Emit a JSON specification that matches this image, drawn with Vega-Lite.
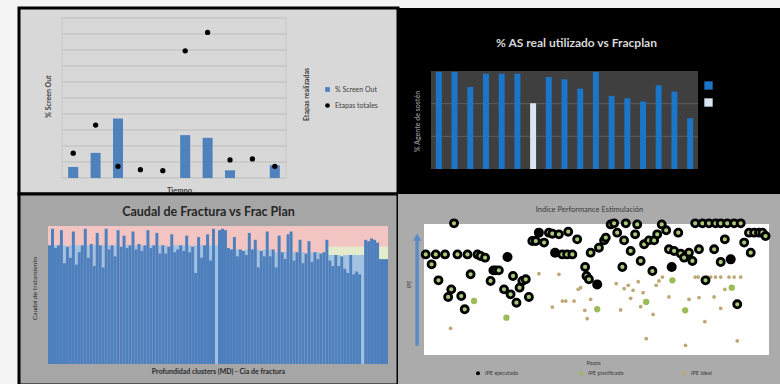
{
"$schema": "https://vega.github.io/schema/vega-lite/v6.json",
"background": "#f3f3f3",
"padding": {"left": 17, "top": 6, "right": 0, "bottom": 0},
"config": {"font": "Lato", "view": {"stroke": null}},
"spacing": 0,
"columns": 2,
"align": "each",
"bounds": "flush",
"resolve": {"scale": {"color": "independent", "shape": "independent"}, "legend": {"color": "independent", "shape": "independent"}},
"concat": [
{
"width": 379, "height": 186,
"view": {"fill": "#d8d8d8", "stroke": "#000000", "strokeWidth": 3},
"layer": [
{"data": {"values": [{"g":0},{"g":1},{"g":2},{"g":3},{"g":4},{"g":5},{"g":6},{"g":7},{"g":8},{"g":9},{"g":10}]},
"mark": {"type": "rule", "color": "#bdbdbd", "strokeWidth": 1},
"encoding": {
"x": {"datum": -0.5, "type": "quantitative", "scale": {"domain": [-0.5, 9.5], "range": [43, 267], "nice": false, "zero": false, "padding": 0}, "axis": {"title": "Tiempo", "labels": false, "ticks": false, "domain": false, "grid": false, "titleX": 160, "titleY": -4, "titleFont": "Lato", "titleFontSize": 7.5, "titleFontWeight": "bold", "titleColor": "#404040", "titleAlign": "center", "titleBaseline": "middle"}},
"x2": {"datum": 9.5},
"y": {"field": "g", "type": "quantitative", "scale": {"domain": [0, 10], "range": [170, 10], "nice": false}, "axis": null}
}},
{"data": {"values": [{"xv": -0.5}, {"xv": 9.5}]},
"mark": {"type": "rule", "color": "#c6c6c6"},
"encoding": {"x": {"field": "xv", "type": "quantitative"}, "y": {"datum": 0, "type": "quantitative", "axis": null}, "y2": {"datum": 10}}},
{"data": {"values": [{"t":0,"v":0.69,"serie":"% Screen Out"},{"t":1,"v":1.57,"serie":"% Screen Out"},{"t":2,"v":3.72,"serie":"% Screen Out"},{"t":5,"v":2.68,"serie":"% Screen Out"},{"t":6,"v":2.51,"serie":"% Screen Out"},{"t":7,"v":0.48,"serie":"% Screen Out"},{"t":9,"v":0.79,"serie":"% Screen Out"}]},
"mark": {"type": "bar", "orient": "vertical", "size": 10},
"encoding": {
"x": {"field": "t", "type": "quantitative"},
"y": {"field": "v", "type": "quantitative", "axis": {"orient": "left", "title": "% Screen Out", "labels": false, "ticks": false, "domain": false, "grid": false, "titleX": 29, "titleY": 88, "titleAngle": -90, "titleFont": "Lato", "titleFontSize": 7, "titleFontWeight": "bold", "titleColor": "#404040", "titleAlign": "center", "titleBaseline": "middle"}},
"color": {"field": "serie", "type": "nominal", "scale": {"domain": ["% Screen Out", "Etapas totales"], "range": ["#4f81bd", "#000000"]}, "legend": {"orient": "none", "legendX": 305, "legendY": 78, "title": null, "labelFont": "Lato", "labelFontSize": 7, "labelColor": "#404040", "symbolSize": 22, "rowPadding": 8}}
}},
{"data": {"values": [{"t":0,"e":1.55,"serie":"Etapas totales"},{"t":1,"e":3.31,"serie":"Etapas totales"},{"t":2,"e":0.73,"serie":"Etapas totales"},{"t":3,"e":0.52,"serie":"Etapas totales"},{"t":4,"e":0.46,"serie":"Etapas totales"},{"t":5,"e":7.95,"serie":"Etapas totales"},{"t":6,"e":9.1,"serie":"Etapas totales"},{"t":7,"e":1.13,"serie":"Etapas totales"},{"t":8,"e":1.19,"serie":"Etapas totales"},{"t":9,"e":0.73,"serie":"Etapas totales"}]},
"mark": {"type": "point", "filled": true, "size": 28, "opacity": 1},
"encoding": {
"x": {"field": "t", "type": "quantitative"},
"y": {"field": "e", "type": "quantitative", "axis": {"orient": "right", "title": "Etapas realizadas", "labels": false, "ticks": false, "domain": false, "grid": false, "titleX": -92, "titleY": 86, "titleAngle": -90, "titleFont": "Lato", "titleFontSize": 7, "titleFontWeight": "bold", "titleColor": "#404040", "titleAlign": "center", "titleBaseline": "middle"}},
"color": {"field": "serie", "type": "nominal", "scale": {"domain": ["% Screen Out", "Etapas totales"], "range": ["#4f81bd", "#000000"]}, "legend": {"orient": "none", "legendX": 305, "legendY": 78, "title": null, "labelFont": "Lato", "labelFontSize": 7, "labelColor": "#404040", "symbolSize": 22, "rowPadding": 8}},
"shape": {"field": "serie", "type": "nominal", "scale": {"domain": ["% Screen Out", "Etapas totales"], "range": ["square", "circle"]}, "legend": {"orient": "none", "legendX": 305, "legendY": 78, "title": null, "labelFont": "Lato", "labelFontSize": 7, "labelColor": "#404040", "symbolSize": 22, "rowPadding": 8}}
}}
],
"resolve": {"axis": {"y": "independent"}}
},
{
"width": 383, "height": 186,
"view": {"fill": "#000000", "stroke": null},
"title": {"text": "% AS real utilizado vs Fracplan", "font": "Lato", "fontSize": 12, "fontWeight": "bold", "color": "#d9d9d9", "anchor": "middle", "frame": "group", "baseline": "middle", "offset": -47, "dx": -13},
"layer": [
{"data": {"values": [{}]},
"mark": {"type": "rect", "color": "#3f3f3f"},
"encoding": {
"x": {"datum": -0.5, "type": "quantitative", "scale": {"domain": [-0.5, 16.5], "range": [33, 300], "nice": false, "zero": false, "padding": 0}, "axis": null},
"x2": {"datum": 16.5},
"y": {"datum": 0, "type": "quantitative", "scale": {"domain": [0, 120], "range": [161, 63], "nice": false}, "axis": {"title": "% Agente de sostén", "labels": false, "ticks": false, "domain": false, "grid": false, "titleX": 19, "titleY": 113, "titleAngle": -90, "titleFont": "Lato", "titleFontSize": 7, "titleFontWeight": "bold", "titleColor": "#8a8a8a", "titleAlign": "center", "titleBaseline": "middle"}},
"y2": {"datum": 120}
}},
{"data": {"values": [{"g": 40}, {"g": 80}]},
"mark": {"type": "rule", "color": "#5e5e5e"},
"encoding": {"x": {"datum": -0.5, "type": "quantitative", "axis": null}, "x2": {"datum": 16.5}, "y": {"field": "g", "type": "quantitative"}}},
{"data": {"values": [{"n":0,"v":119,"tipo":"real"},{"n":1,"v":119,"tipo":"real"},{"n":2,"v":100.5,"tipo":"real"},{"n":3,"v":116.7,"tipo":"real"},{"n":4,"v":116.7,"tipo":"real"},{"n":5,"v":116.7,"tipo":"real"},{"n":6,"v":80.5,"tipo":"plan"},{"n":7,"v":112.7,"tipo":"real"},{"n":8,"v":109.8,"tipo":"real"},{"n":9,"v":98.4,"tipo":"real"},{"n":10,"v":118.8,"tipo":"real"},{"n":11,"v":89.5,"tipo":"real"},{"n":12,"v":86.6,"tipo":"real"},{"n":13,"v":82.6,"tipo":"real"},{"n":14,"v":102.5,"tipo":"real"},{"n":15,"v":94.8,"tipo":"real"},{"n":16,"v":62.2,"tipo":"real"}]},
"mark": {"type": "bar", "orient": "vertical", "size": 6},
"encoding": {
"x": {"field": "n", "type": "quantitative", "axis": null},
"y": {"field": "v", "type": "quantitative"},
"color": {"field": "tipo", "type": "nominal", "scale": {"domain": ["real", "plan"], "range": ["#1b75c9", "#dbe5f1"]}, "legend": {"orient": "none", "legendX": 306, "legendY": 73, "title": null, "symbolType": "square", "symbolSize": 70, "symbolStrokeWidth": 0, "labelExpr": "''", "labelFontSize": 8, "rowPadding": 8}}
}}
]
},
{
"width": 379, "height": 191,
"view": {"fill": "#a6a6a6", "stroke": "#000000", "strokeWidth": 3},
"title": {"text": "Caudal de Fractura vs Frac Plan", "font": "Lato", "fontSize": 12.5, "fontWeight": "bold", "color": "#262626", "anchor": "middle", "frame": "group", "baseline": "middle", "offset": -30},
"data": {"values": [{"i":0,"b":86},{"i":1,"b":98},{"i":2,"b":84,"s":86},{"i":3,"b":86},{"i":4,"b":97},{"i":5,"b":73,"s":86},{"i":6,"b":85},{"i":7,"b":77,"s":86},{"i":8,"b":96},{"i":9,"b":72,"s":86},{"i":10,"b":81,"s":86},{"i":11,"b":86},{"i":12,"b":98},{"i":13,"b":77,"s":86},{"i":14,"b":87},{"i":15,"b":71,"s":86},{"i":16,"b":95},{"i":17,"b":86},{"i":18,"b":70,"s":86},{"i":19,"b":98},{"i":20,"b":83,"s":86},{"i":21,"b":86},{"i":22,"b":78,"s":86},{"i":23,"b":97},{"i":24,"b":85},{"i":25,"b":93},{"i":26,"b":84,"s":86},{"i":27,"b":86},{"i":28,"b":96},{"i":29,"b":83,"s":86},{"i":30,"b":87},{"i":31,"b":82,"s":86},{"i":32,"b":86},{"i":33,"b":97},{"i":34,"b":84,"s":86},{"i":35,"b":86},{"i":36,"b":95},{"i":37,"b":80,"s":86},{"i":38,"b":86},{"i":39,"b":80,"s":86},{"i":40,"b":85},{"i":41,"b":94},{"i":42,"b":81,"s":86},{"i":43,"b":83,"s":86},{"i":44,"b":86},{"i":45,"b":82,"s":86},{"i":46,"b":93},{"i":47,"b":81,"s":86},{"i":48,"b":85},{"i":49,"b":66,"s":86},{"i":50,"b":92},{"i":51,"b":77,"s":86},{"i":52,"b":86},{"i":53,"b":94},{"i":54,"b":75,"s":86},{"i":55,"b":98},{"i":56,"b":0,"s":86},{"i":57,"b":97},{"i":58,"b":98},{"i":59,"b":97},{"i":60,"b":84},{"i":61,"b":83},{"i":62,"b":92},{"i":63,"b":78,"s":83},{"i":64,"b":83},{"i":65,"b":82},{"i":66,"b":79,"s":83},{"i":67,"b":95},{"i":68,"b":83},{"i":69,"b":90},{"i":70,"b":70,"s":83},{"i":71,"b":82},{"i":72,"b":78,"s":83},{"i":73,"b":96},{"i":74,"b":78,"s":83},{"i":75,"b":83},{"i":76,"b":70,"s":81},{"i":77,"b":93},{"i":78,"b":81},{"i":79,"b":76,"s":81},{"i":80,"b":94},{"i":81,"b":96},{"i":82,"b":75,"s":81},{"i":83,"b":81},{"i":84,"b":90},{"i":85,"b":73,"s":81},{"i":86,"b":80},{"i":87,"b":89},{"i":88,"b":74,"s":81},{"i":89,"b":81},{"i":90,"b":76,"s":81},{"i":91,"b":80},{"i":92,"b":81},{"i":93,"b":90,"g":85},{"i":94,"b":75,"s":79,"g":85},{"i":95,"b":71,"s":79,"g":85},{"i":96,"b":79,"g":85},{"i":97,"b":71,"s":79,"g":85},{"i":98,"b":78,"g":85},{"i":99,"b":69,"s":79,"g":85},{"i":100,"b":66,"s":79,"g":85},{"i":101,"b":79,"g":85},{"i":102,"b":65,"s":79,"g":85},{"i":103,"b":67,"s":79,"g":85},{"i":104,"b":65,"s":79,"g":85},{"i":105,"b":0,"s":79,"g":85},{"i":106,"b":90},{"i":107,"b":89},{"i":108,"b":91},{"i":109,"b":90},{"i":110,"b":88},{"i":111,"b":76,"g":85},{"i":112,"b":76,"g":85},{"i":113,"b":76,"g":85}]},
"layer": [
{"data": {"values": [{}]},
"mark": {"type": "rect", "color": "#f3c5c2"},
"encoding": {
"x": {"datum": -0.5, "type": "quantitative", "scale": {"domain": [-0.5, 113.5], "range": [29, 369], "nice": false, "zero": false, "padding": 0}, "axis": {"title": "Profundidad clusters (MD) - Cia de fractura", "labels": false, "ticks": false, "domain": false, "grid": false, "titleX": 199, "titleY": -14, "titleFont": "Lato", "titleFontSize": 7, "titleFontWeight": "bold", "titleColor": "#2b2b2b", "titleAlign": "center", "titleBaseline": "middle"}},
"x2": {"datum": 113.5},
"y": {"datum": 0, "type": "quantitative", "scale": {"domain": [0, 100], "range": [170, 32], "nice": false}, "axis": {"title": "Caudal de tratamiento", "labels": false, "ticks": false, "domain": false, "grid": false, "titleX": 15, "titleY": 94, "titleAngle": -90, "titleFont": "Lato", "titleFontSize": 6.5, "titleFontWeight": "normal", "titleColor": "#2b2b2b", "titleAlign": "center", "titleBaseline": "middle"}},
"y2": {"datum": 100}
}},
{"mark": {"type": "bar", "orient": "vertical", "size": 3, "color": "#e2eecb"},
"encoding": {"x": {"field": "i", "type": "quantitative"}, "y": {"field": "g", "type": "quantitative"}}},
{"mark": {"type": "bar", "orient": "vertical", "size": 3, "color": "#9fc1e4"},
"encoding": {"x": {"field": "i", "type": "quantitative"}, "y": {"field": "s", "type": "quantitative"}}},
{"mark": {"type": "bar", "orient": "vertical", "size": 3, "color": "#4e80be"},
"encoding": {"x": {"field": "i", "type": "quantitative"}, "y": {"field": "b", "type": "quantitative"}}}
]
},
{
"width": 383, "height": 191,
"view": {"fill": "#ababab", "stroke": null},
"title": {"text": "Indice Performance Estimulación", "font": "Lato", "fontSize": 7.5, "fontWeight": "normal", "color": "#3a3a3a", "anchor": "middle", "frame": "group", "baseline": "middle", "offset": -23.5},
"layer": [
{"data": {"values": [{}]},
"mark": {"type": "rect", "color": "#ffffff"},
"encoding": {
"x": {"datum": 0, "type": "quantitative", "scale": {"domain": [0, 100], "range": [26, 371], "nice": false, "zero": false, "padding": 0}, "axis": {"title": "Pozos", "labels": false, "ticks": false, "domain": false, "grid": false, "titleX": 195, "titleY": -23, "titleFont": "Lato", "titleFontSize": 5.5, "titleFontWeight": "normal", "titleColor": "#3a3a3a", "titleAlign": "center", "titleBaseline": "middle"}},
"x2": {"datum": 100},
"y": {"datum": 0, "type": "quantitative", "scale": {"domain": [0, 100], "range": [161, 30], "nice": false}, "axis": {"title": "IPE", "labels": false, "ticks": false, "domain": false, "grid": false, "titleX": 10, "titleY": 90, "titleAngle": -90, "titleFont": "Lato", "titleFontSize": 5, "titleFontWeight": "normal", "titleColor": "#3a3a3a", "titleAlign": "center", "titleBaseline": "middle"}},
"y2": {"datum": 100}
}},
{"data": {"values": [{}]},
"mark": {"type": "rule", "color": "#5b8bc5", "strokeWidth": 3.5},
"encoding": {"x": {"datum": -2, "type": "quantitative"}, "y": {"datum": 7, "type": "quantitative"}, "y2": {"datum": 88}}},
{"data": {"values": [{}]},
"mark": {"type": "point", "shape": "triangle-up", "filled": true, "size": 70, "color": "#5b8bc5", "opacity": 1},
"encoding": {"x": {"datum": -2, "type": "quantitative"}, "y": {"datum": 90, "type": "quantitative"}}},
{"data": {"values": [{"x":7.7,"y":20.4},{"x":33.3,"y":62.1},{"x":37.2,"y":36.6},{"x":39.1,"y":61.6},{"x":40.1,"y":41.2},{"x":41.1,"y":41.2},{"x":43.5,"y":41.2},{"x":44.7,"y":50.1},{"x":45.4,"y":51.4},{"x":46.6,"y":34.1},{"x":47.3,"y":27.7},{"x":48.3,"y":42.5},{"x":55.7,"y":54.5},{"x":57.0,"y":34.4},{"x":58.0,"y":50.6},{"x":59.2,"y":53.2},{"x":59.9,"y":43.3},{"x":60.6,"y":49.4},{"x":62.1,"y":56.0},{"x":62.8,"y":36.9},{"x":63.5,"y":47.6},{"x":64.4,"y":12.5},{"x":66.4,"y":31.0},{"x":67.3,"y":53.2},{"x":68.1,"y":56.5},{"x":69.1,"y":59.5},{"x":71.0,"y":44.3},{"x":75.8,"y":7.4},{"x":76.8,"y":42.5},{"x":78.6,"y":59.5},{"x":79.5,"y":59.5},{"x":79.7,"y":43.8},{"x":81.4,"y":25.4},{"x":82.1,"y":59.5},{"x":83.1,"y":59.5},{"x":84.5,"y":59.5},{"x":86.0,"y":59.5},{"x":84.1,"y":44.3},{"x":86.0,"y":35.6},{"x":87.2,"y":50.1},{"x":88.4,"y":59.5},{"x":89.9,"y":59.5},{"x":90.8,"y":10.7},{"x":91.8,"y":59.5}]},
"mark": {"type": "circle", "size": 14, "opacity": 1},
"encoding": {"x": {"field": "x", "type": "quantitative"}, "y": {"field": "y", "type": "quantitative"},
"color": {"datum": "IPE ideal", "type": "nominal", "scale": {"domain": ["IPE ejecutado", "IPE planificado", "IPE ideal"], "range": ["#000000", "#9bbb59", "#bda874"]}, "legend": {"orient": "none", "direction": "horizontal", "legendX": 77, "legendY": 176, "title": null, "labelFont": "Lato", "labelFontSize": 5.5, "labelColor": "#3a3a3a", "symbolSize": 16, "columns": 3, "gridAlign": "all", "columnPadding": 57}}}},
{"data": {"values": [{"x":14.5,"y":41.2},{"x":23.9,"y":28.5},{"x":50.2,"y":34.9},{"x":64.4,"y":40.5},{"x":75.7,"y":34.1},{"x":72.0,"y":57.0},{"x":89.2,"y":51.4}]},
"mark": {"type": "circle", "size": 40, "opacity": 1},
"encoding": {"x": {"field": "x", "type": "quantitative"}, "y": {"field": "y", "type": "quantitative"},
"color": {"datum": "IPE planificado", "type": "nominal"}}},
{"data": {"values": [{"x":24.2,"y":74.8},{"x":33.3,"y":93.4},{"x":38.0,"y":78.1},{"x":50.2,"y":53.9},{"x":71.8,"y":67.2},{"x":88.9,"y":73.0}]},
"mark": {"type": "circle", "size": 100, "opacity": 1},
"encoding": {"x": {"field": "x", "type": "quantitative"}, "y": {"field": "y", "type": "quantitative"},
"color": {"datum": "IPE ejecutado", "type": "nominal"}}},
{"data": {"values": [{"x":0.5,"y":76.8},{"x":3.4,"y":76.8},{"x":6.1,"y":76.8},{"x":8.7,"y":100.5},{"x":9.7,"y":76.8},{"x":12.6,"y":76.8},{"x":15.5,"y":76.8},{"x":16.4,"y":75.6},{"x":17.7,"y":74.3},{"x":2.2,"y":69.2},{"x":4.2,"y":57.0},{"x":7.9,"y":50.1},{"x":7.0,"y":44.3},{"x":10.8,"y":45.0},{"x":11.8,"y":34.9},{"x":13.5,"y":61.6},{"x":19.3,"y":56.5},{"x":20.1,"y":64.6},{"x":20.8,"y":64.6},{"x":21.7,"y":64.6},{"x":23.2,"y":50.1},{"x":25.1,"y":46.3},{"x":25.8,"y":60.3},{"x":26.8,"y":39.9},{"x":27.7,"y":51.4},{"x":28.5,"y":56.5},{"x":29.5,"y":57.8},{"x":30.4,"y":44.3},{"x":31.4,"y":87.0},{"x":32.4,"y":87.0},{"x":34.8,"y":85.8},{"x":36.2,"y":93.4},{"x":37.2,"y":92.6},{"x":39.1,"y":92.1},{"x":41.8,"y":94.1},{"x":44.4,"y":88.3},{"x":40.1,"y":76.8},{"x":41.5,"y":76.8},{"x":43.0,"y":76.8},{"x":46.7,"y":67.2},{"x":47.1,"y":60.3},{"x":47.8,"y":57.8},{"x":48.3,"y":78.1},{"x":50.7,"y":81.9},{"x":52.2,"y":87.5},{"x":52.7,"y":89.6},{"x":54.1,"y":99.7},{"x":55.1,"y":100.5},{"x":56.0,"y":93.4},{"x":57.5,"y":67.2},{"x":58.0,"y":87.5},{"x":58.5,"y":100.5},{"x":59.9,"y":79.4},{"x":61.2,"y":92.1},{"x":61.8,"y":99.7},{"x":62.8,"y":71.8},{"x":63.8,"y":84.5},{"x":65.2,"y":87.5},{"x":66.7,"y":87.5},{"x":66.2,"y":64.1},{"x":67.6,"y":92.1},{"x":68.9,"y":99.7},{"x":70.2,"y":95.2},{"x":71.0,"y":80.7},{"x":72.5,"y":79.4},{"x":73.7,"y":93.4},{"x":74.4,"y":77.4},{"x":75.4,"y":74.3},{"x":76.8,"y":78.1},{"x":77.8,"y":71.8},{"x":79.7,"y":80.7},{"x":78.6,"y":100.5},{"x":80.7,"y":100.5},{"x":82.6,"y":100.5},{"x":84.5,"y":100.5},{"x":86.0,"y":100.5},{"x":81.6,"y":57.0},{"x":84.1,"y":80.7},{"x":86.0,"y":71.0},{"x":87.2,"y":88.3},{"x":87.9,"y":100.5},{"x":89.9,"y":100.5},{"x":91.8,"y":100.5},{"x":90.8,"y":38.7},{"x":92.8,"y":85.8},{"x":94.2,"y":93.4},{"x":95.7,"y":93.4},{"x":97.1,"y":93.4},{"x":98.1,"y":93.4},{"x":99.0,"y":90.8},{"x":94.7,"y":78.1}]},
"mark": {"type": "circle", "size": 50, "opacity": 1, "fill": "#a9c978", "stroke": "#000000", "strokeWidth": 2.8},
"encoding": {"x": {"field": "x", "type": "quantitative"}, "y": {"field": "y", "type": "quantitative"}}}
]
}
]
}
